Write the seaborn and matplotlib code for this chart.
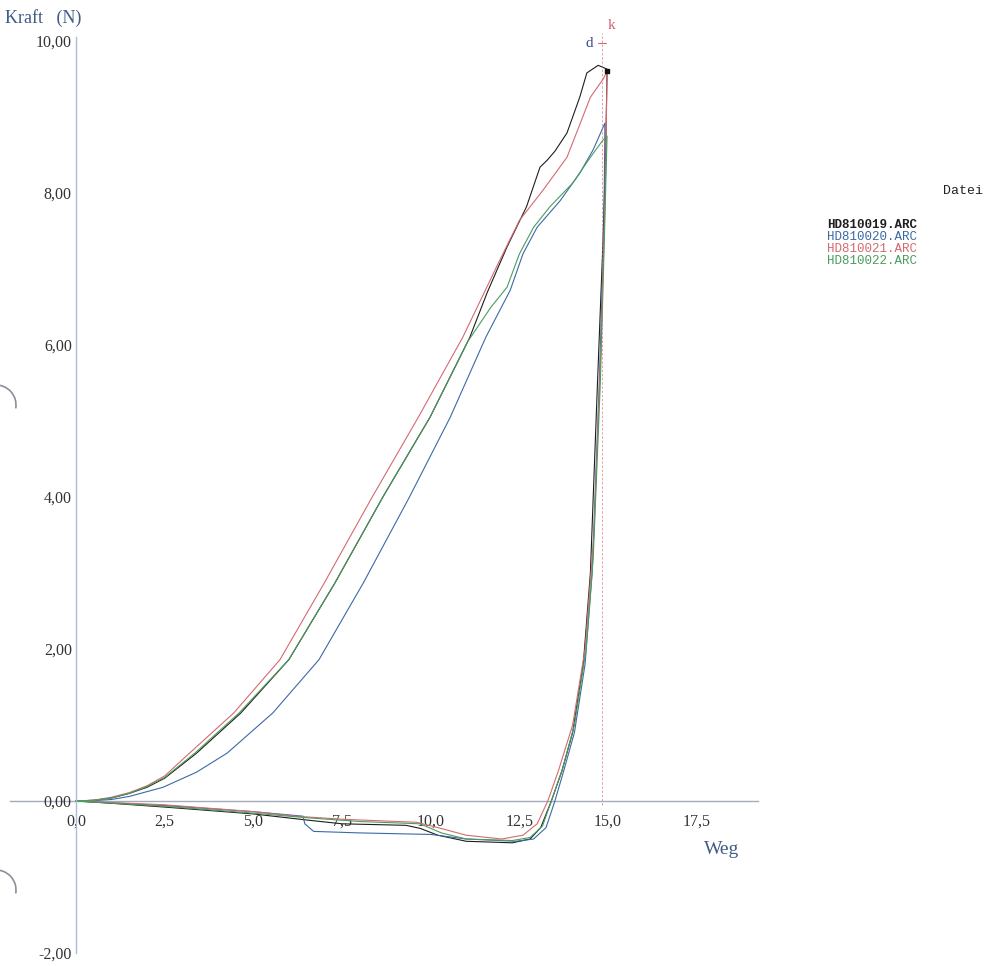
import matplotlib
matplotlib.use("Agg")
import matplotlib.pyplot as plt
from matplotlib.patches import Arc
import pandas as pd
import seaborn as sns

# Kraft-Weg Kurven, vier Messungen (Weg, Kraft)
files = ["HD810019.ARC", "HD810020.ARC", "HD810021.ARC", "HD810022.ARC"]
colors = ["#1e1e1e", "#3a6aa6", "#d46a70", "#4c9c5e"]

weg_19 = [0, 0.5, 1, 1.5, 2, 2.5, 3.4, 4.65, 6.0, 7.3, 8.65, 9.98, 11.1, 11.6, 12.15, 12.7, 13.08, 13.28, 13.5,
          13.84, 14.2, 14.4, 14.72, 14.97,
          14.93, 14.85, 14.7, 14.5, 14.3, 14.0, 13.7, 13.4, 13.1, 12.8, 12.3, 11.0, 10.2, 9.7, 9.3, 7.5, 6.5, 5.0,
          2.5, 1.0, 0]
kraft_19 = [0, 0.01, 0.04, 0.1, 0.18, 0.3, 0.63, 1.16, 1.86, 2.87, 4.0, 5.05, 6.1, 6.7, 7.29, 7.82, 8.34, 8.43, 8.55,
            8.79, 9.26, 9.58, 9.68, 9.63,
            8.5, 7.3, 5.5, 3.0, 1.8, 0.9, 0.4, 0.0, -0.35, -0.5, -0.55, -0.53, -0.45, -0.36, -0.32, -0.3, -0.25, -0.17,
            -0.08, -0.03, 0]

weg_20 = [0, 0.5, 1, 1.5, 2.45, 3.4, 4.26, 5.55, 6.85, 8.1, 9.4, 10.55, 11.55, 12.24, 12.6, 13.0, 13.65, 14.2, 14.58,
          14.91,
          14.88, 14.75, 14.55, 14.35, 14.05, 13.75, 13.5, 13.25, 12.9, 12.4, 11.0, 10.0, 8.0, 6.7, 6.45, 6.4, 5.0,
          2.5, 0]
kraft_20 = [0, 0.005, 0.02, 0.06, 0.18, 0.38, 0.63, 1.16, 1.86, 2.87, 4.0, 5.05, 6.1, 6.72, 7.2, 7.55, 7.9, 8.26, 8.57,
            8.92,
            7.5, 5.5, 3.0, 1.8, 0.9, 0.4, 0.0, -0.35, -0.5, -0.53, -0.5, -0.44, -0.42, -0.4, -0.3, -0.2, -0.14,
            -0.06, 0]

weg_21 = [0, 0.5, 1, 1.5, 2, 2.5, 3.2, 4.45, 5.75, 7.0, 8.35, 9.65, 10.9, 11.95, 12.5, 13.17, 13.84, 14.2, 14.5,
          14.86, 14.97,
          14.92, 14.8, 14.6, 14.35, 14.0, 13.6, 13.3, 13.0, 12.6, 12.0, 11.0, 10.2, 9.6, 7.5, 6.2, 5.0, 2.5, 0]
kraft_21 = [0, 0.01, 0.05, 0.11, 0.2, 0.33, 0.63, 1.16, 1.86, 2.87, 4.0, 5.05, 6.1, 7.12, 7.64, 8.04, 8.47, 8.9, 9.26,
            9.5, 9.6,
            8.0, 6.0, 3.5, 2.0, 1.0, 0.4, 0.0, -0.3, -0.45, -0.5, -0.45, -0.35, -0.28, -0.24, -0.2, -0.14, -0.05, 0]

weg_22 = [0, 0.5, 1, 1.5, 2, 2.5, 3.35, 4.6, 6.0, 7.3, 8.65, 9.98, 11.05, 11.7, 12.15, 12.5, 12.9, 13.36, 14.0, 14.5,
          14.86, 14.97,
          14.9, 14.78, 14.58, 14.38, 14.05, 13.7, 13.4, 13.15, 12.8, 12.3, 11.0, 10.3, 9.7, 8.0, 6.5, 5.0, 2.5, 0]
kraft_22 = [0, 0.01, 0.04, 0.1, 0.19, 0.31, 0.63, 1.16, 1.86, 2.87, 4.0, 5.05, 6.05, 6.5, 6.76, 7.2, 7.55, 7.82, 8.13,
            8.47, 8.7, 8.75,
            7.5, 5.5, 3.2, 2.0, 1.0, 0.4, 0.0, -0.33, -0.48, -0.52, -0.5, -0.42, -0.3, -0.27, -0.22, -0.16, -0.07, 0]

x_ticks = [0, 2.5, 5.0, 7.5, 10.0, 12.5, 15.0, 17.5]
y_ticks = [-2, 0, 2, 4, 6, 8, 10]
cursor_x = 14.83

frames = []
for f, w, k in zip(files, [weg_19, weg_20, weg_21, weg_22], [kraft_19, kraft_20, kraft_21, kraft_22]):
    d = pd.DataFrame({"Weg": w, "Kraft": k})
    d["Datei"] = f
    frames.append(d)
df = pd.concat(frames, ignore_index=True)

sns.set_style("white")
plt.rcParams["font.family"] = ["Liberation Serif", "DejaVu Serif"]

fig = plt.figure(figsize=(9.84, 9.66), dpi=100)
ax = fig.add_axes([0.00514, 0.00952, 0.7751, 0.9559])

sns.lineplot(data=df, x="Weg", y="Kraft", hue="Datei", units="Datei", estimator=None, sort=False,
             palette=dict(zip(files, colors)), linewidth=0.8, legend=False, ax=ax)

# Cursor "d" / "k"
ax.plot([cursor_x, cursor_x], [-0.05, 10.1], color="#d46a70", lw=0.6, ls=(0, (3, 2)), alpha=0.7, clip_on=False)
ax.plot([cursor_x - 0.12, cursor_x + 0.12], [9.97, 9.97], color="#d46a70", lw=0.8, clip_on=False)
ax.plot([14.97], [9.6], marker="s", ms=2.5, color="#111111")
ax.text(cursor_x - 0.25, 9.97, "d", color="#3a4a8a", fontsize=11, ha="right", va="center", clip_on=False)
ax.text(cursor_x + 0.15, 10.2, "k", color="#d45a70", fontsize=11, ha="left", va="center", clip_on=False)

ax.set_xlim(-2.0, 19.5)
ax.set_ylim(-2.05, 10.1)
for s in ["top", "right"]:
    ax.spines[s].set_visible(False)
ax.spines["left"].set_position(("data", 0))
ax.spines["bottom"].set_position(("data", 0))
ax.spines["left"].set_bounds(-2, 10.05)
ax.spines["bottom"].set_bounds(-1.86, 19.23)
ax.spines["left"].set_color("#a9bedb")
ax.spines["bottom"].set_color("#a3acbb")
ax.spines["left"].set_linewidth(1.0)
ax.spines["bottom"].set_linewidth(1.0)
ax.spines["bottom"].set_zorder(0.5)

ax.set_xticks(x_ticks)
ax.set_xticklabels([f"{v:.1f}".replace(".", ",") for v in x_ticks])
ax.set_yticks(y_ticks)
ax.set_yticklabels([f"{v:.2f}".replace(".", ",") for v in y_ticks])
ax.tick_params(axis="x", direction="in", length=5, width=0.8, color="#a3acbb", pad=9,
               labelsize=11.5, labelcolor="#333333")
ax.tick_params(axis="y", length=0, pad=3, labelsize=11.5, labelcolor="#333333")
ax.set_xlabel("")
ax.set_ylabel("")
ax.patch.set_alpha(0)

fig.text(5 / 984, 1 - 18 / 966, "Kraft   (N)", color="#3f5b86", fontsize=13, ha="left", va="center")
fig.text(722 / 984, 1 - 850 / 966, "Weg", color="#3f5b86", fontsize=14, ha="center", va="center")

mono = ["Liberation Mono", "DejaVu Sans Mono"]
fig.text(983 / 984, 1 - 191 / 966, "Datei", family=mono, fontsize=9.5, ha="right", va="center", color="#222222")
for i, (f, c) in enumerate(zip(files, colors)):
    fig.text(827 / 984, 1 - (225 + 11.9 * i) / 966, f, family=mono, fontsize=9,
             ha="left", va="center", color=c, fontweight="bold" if i == 0 else "normal")

# Lochungen vom Scan am linken Rand
for cy in [405, 890]:
    fig.patches.append(Arc((-4 / 984, 1 - cy / 966), 40 / 984, 40 / 966, theta1=-10, theta2=95,
                           transform=fig.transFigure, color="#8a8f99", lw=1.2))

fig.savefig("out.png", dpi=100, facecolor="white")
